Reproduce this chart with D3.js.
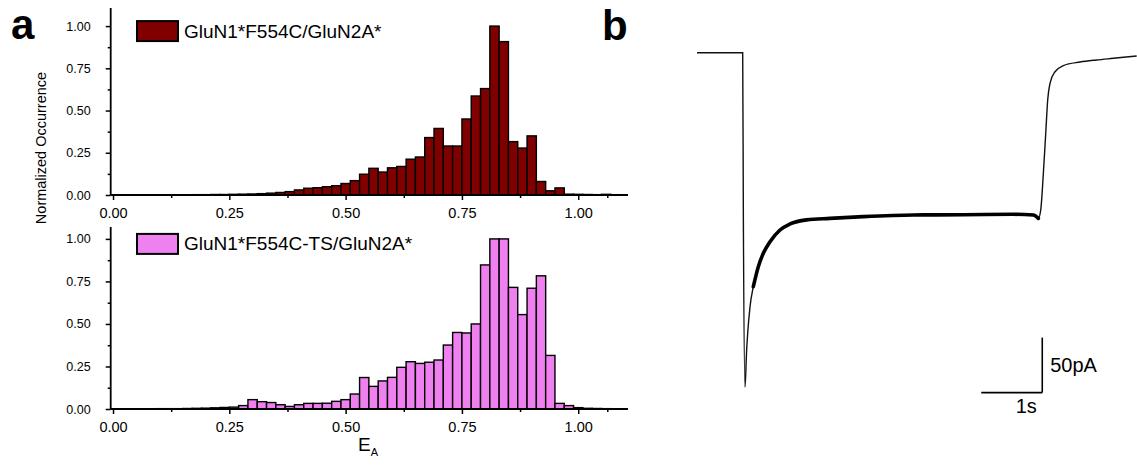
<!DOCTYPE html>
<html>
<head>
<meta charset="utf-8">
<script src="https://cdn.jsdelivr.net/npm/d3@7"></script>
<style>
  body { margin: 0; background: #fff; }
  svg { display: block; font-family: "Liberation Sans", Arial, sans-serif; }
</style>
</head>
<body>
<svg id="chart" width="1137" height="468"></svg>
<script>
// histogram bins: centres 0.00, 0.02, ... 1.08
var binWidth = 0.02;
var binCount = 55;

var seriesNames = ['GluN1*F554C/GluN2A*', 'GluN1*F554C-TS/GluN2A*'];
var seriesColors = ['#800000', '#ef80ef'];

var occF554C = [
  0, 0, 0, 0, 0,
  0, 0.001, 0.001, 0.001, 0.002,
  0.002, 0.003, 0.003, 0.004, 0.005,
  0.006, 0.008, 0.011, 0.015, 0.02,
  0.03, 0.04, 0.043, 0.049, 0.055,
  0.068, 0.085, 0.123, 0.158, 0.136,
  0.161, 0.169, 0.212, 0.225, 0.34,
  0.394, 0.29, 0.29, 0.45, 0.586,
  0.63, 1.0, 0.908, 0.316, 0.278,
  0.35, 0.08, 0.025, 0.042, 0.005,
  0.004, 0.003, 0.002, 0.004, 0.002
];

var occF554CTS = [
  0, 0, 0, 0, 0.001,
  0.002, 0.002, 0.002, 0.003, 0.004,
  0.005, 0.007, 0.009, 0.011, 0.02,
  0.055, 0.043, 0.038, 0.025, 0.015,
  0.025, 0.033, 0.033, 0.034, 0.045,
  0.055, 0.088, 0.185, 0.133, 0.165,
  0.186, 0.245, 0.278, 0.268, 0.275,
  0.288, 0.376, 0.45, 0.447, 0.5,
  0.847, 1.0, 1.0, 0.715, 0.555,
  0.71, 0.783, 0.315, 0.033, 0.02,
  0.008, 0.004, 0.003, 0.002, 0.001
];

var xTicks = [0, 0.25, 0.5, 0.75, 1.0];
var xMinor = [0.125, 0.375, 0.625, 0.875, 1.0625];
var yTicks = [0, 0.25, 0.5, 0.75, 1.0];
var yMinor = [0.125, 0.375, 0.625, 0.875];

// current trace (panel b): time in s, current in pA
var traceTime = [0, 0.749, 0.76, 0.787, 0.814, 0.831, 0.869, 0.923, 1.005, 1.087, 1.197,
  1.361, 1.525, 1.798, 2.18, 2.726, 3.546, 4.366, 5.186, 5.514, 5.596, 5.635, 5.678,
  5.717, 5.749, 5.787, 5.869, 6.005, 6.279, 6.552, 6.825, 7.208];
var traceCurrent = [0, 0, -150, -304, -270, -255, -231, -212.7, -194.5, -182.4, -171.8,
  -161.2, -155.7, -152, -150.6, -149, -147.5, -147.3, -146.9, -147.5, -150.6, -143, -109.6,
  -73.3, -43, -27.8, -17.3, -11.8, -8.5, -6.6, -5.1, -3];
var noisyFrom = 0.92, noisyTo = 5.6;

var scaleBarTime = 1;      // s
var scaleBarCurrent = 50;  // pA
var scaleBarCorner = [5.66, -309];

var svg = d3.select('#chart');

var x = d3.scaleLinear().domain([-0.005, 1.107]).range([110.7, 628]);

function histogram(values, color, name, y0, y1, yMax) {
  var y = d3.scaleLinear().domain([0, yMax]).range([y0, y1]);
  var g = svg.append('g');

  g.selectAll('rect.bar')
    .data(values)
    .enter().append('rect')
    .attr('class', 'bar')
    .attr('x', function(d, i){ return x(i * binWidth - binWidth / 2); })
    .attr('width', function(d, i){ return x(i * binWidth + binWidth / 2) - x(i * binWidth - binWidth / 2); })
    .attr('y', function(d){ return y(d); })
    .attr('height', function(d){ return y0 - y(d); })
    .attr('fill', color)
    .attr('stroke', '#000')
    .attr('stroke-width', 1.4);

  // x axis
  var xa = g.append('g').attr('transform', 'translate(0,' + y0 + ')');
  xa.call(d3.axisBottom(x).tickValues(xTicks).tickSize(5).tickPadding(8).tickFormat(d3.format('.2f')));
  xa.append('g').call(d3.axisBottom(x).tickValues(xMinor).tickSize(3).tickFormat(''));
  xa.selectAll('.domain').remove();
  xa.append('line').attr('x1', x.range()[0]).attr('x2', x.range()[1])
    .attr('stroke', '#000').attr('stroke-width', 1.8);

  // y axis
  var ya = g.append('g').attr('transform', 'translate(' + x.range()[0] + ',0)');
  ya.call(d3.axisLeft(y).tickValues(yTicks).tickSize(5).tickPadding(15).tickFormat(d3.format('.2f')));
  ya.append('g').call(d3.axisLeft(y).tickValues(yMinor).tickSize(3).tickFormat(''));
  ya.selectAll('.domain').remove();
  ya.append('line').attr('y1', y0).attr('y2', y1)
    .attr('stroke', '#000').attr('stroke-width', 1.8);

  g.selectAll('.tick line').attr('stroke', '#000').attr('stroke-width', 1.5);
  xa.selectAll('.tick text').attr('font-size', 14.5).attr('fill', '#000');
  ya.selectAll('.tick text').attr('font-size', 12.5).attr('fill', '#000');

  // legend
  var ly = y(1.0) - 5;
  g.append('rect').attr('x', 137).attr('y', ly).attr('width', 41).attr('height', 20)
    .attr('fill', color).attr('stroke', '#000').attr('stroke-width', 2);
  g.append('text').attr('x', 184).attr('y', ly + 16.5)
    .attr('font-size', 19).attr('fill', '#000').text(name);
}

histogram(occF554C, seriesColors[0], seriesNames[0], 195, 8, 1.107);
histogram(occF554CTS, seriesColors[1], seriesNames[1], 409, 227, 1.07);

svg.append('text')
  .attr('transform', 'translate(46,148) rotate(-90)')
  .attr('text-anchor', 'middle')
  .attr('font-size', 14.5)
  .text('Normalized Occurrence');

var ea = svg.append('text').attr('x', 358).attr('y', 451).attr('font-size', 19);
ea.append('tspan').text('E');
ea.append('tspan').attr('font-size', 11).attr('dy', 5).text('A');

svg.append('text').attr('x', 11).attr('y', 39).attr('font-size', 42)
  .attr('font-weight', 'bold').text('a');
svg.append('text').attr('x', 602).attr('y', 40).attr('font-size', 42)
  .attr('font-weight', 'bold').text('b');

// panel b trace
var tx = d3.scaleLinear().domain([0, 7.2]).range([697, 697 + 7.2 * 61]);
var ty = d3.scaleLinear().domain([0, -300]).range([52.7, 52.7 + 330]);

var pts = traceTime.map(function(t, i){ return [t, traceCurrent[i]]; });
var line = d3.line().curve(d3.curveMonotoneX)
  .x(function(d){ return tx(d[0]); }).y(function(d){ return ty(d[1]); });

svg.append('path').attr('d', line(pts)).attr('fill', 'none')
  .attr('stroke', '#111').attr('stroke-width', 1.4);
svg.append('path')
  .attr('d', line(pts.filter(function(d){ return d[0] >= noisyFrom && d[0] <= noisyTo; })))
  .attr('fill', 'none').attr('stroke', '#000').attr('stroke-width', 3.6)
  .attr('stroke-linecap', 'round').attr('stroke-linejoin', 'round');

// scale bar
var cx = tx(scaleBarCorner[0]), cy = ty(scaleBarCorner[1]);
var sb = svg.append('g').attr('stroke', '#000').attr('stroke-width', 1.6);
sb.append('line').attr('x1', tx(scaleBarCorner[0] - scaleBarTime)).attr('x2', cx).attr('y1', cy).attr('y2', cy);
sb.append('line').attr('x1', cx).attr('x2', cx).attr('y1', cy).attr('y2', ty(scaleBarCorner[1] + scaleBarCurrent));
svg.append('text').attr('x', cx + 8).attr('y', (cy + ty(scaleBarCorner[1] + scaleBarCurrent)) / 2 + 7)
  .attr('font-size', 20).text(scaleBarCurrent + 'pA');
svg.append('text').attr('x', cx - 16).attr('y', cy + 20).attr('text-anchor', 'middle')
  .attr('font-size', 20).text(scaleBarTime + 's');
</script>
</body>
</html>
